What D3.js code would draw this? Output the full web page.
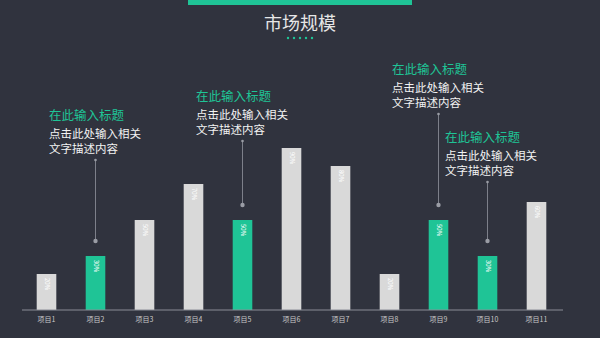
<!DOCTYPE html>
<html>
<head>
<meta charset="utf-8">
<script src="https://cdn.jsdelivr.net/npm/d3@7"></script>
<style>
  html, body { margin: 0; padding: 0; background: #30333e; }
  svg { display: block; font-family: "Noto Sans CJK SC", "Noto Sans", sans-serif; }
</style>
</head>
<body>
<div id="chart"></div>
<script>
var categories = ['项目1', '项目2', '项目3', '项目4', '项目5', '项目6', '项目7', '项目8', '项目9', '项目10', '项目11']
var values = [20, 30, 50, 70, 50, 90, 80, 20, 50, 30, 60]
var highlighted = ['项目2', '项目5', '项目9', '项目10']

// callouts
var noteBars = ['项目2', '项目5', '项目9', '项目10']
var noteTitles = ['在此输入标题', '在此输入标题', '在此输入标题', '在此输入标题']
var noteLine1 = ['点击此处输入相关', '点击此处输入相关', '点击此处输入相关', '点击此处输入相关']
var noteLine2 = ['文字描述内容', '文字描述内容', '文字描述内容', '文字描述内容']

var W = 600, H = 338
var green = '#1fc496'
var grey = '#d9d9d9'

document.addEventListener('DOMContentLoaded', function() {
  var svg = d3.select('#chart').append('svg')
    .attr('width', W)
    .attr('height', H)

  svg.append('rect').attr('width', W).attr('height', H).attr('fill', '#30333e')

  // header
  svg.append('rect')
    .attr('x', 188).attr('y', 0)
    .attr('width', 224).attr('height', 5)
    .attr('fill', green)
  svg.append('text')
    .attr('x', 300).attr('y', 30)
    .attr('text-anchor', 'middle')
    .attr('fill', '#e6e6e6')
    .attr('font-size', 18)
    .text('市场规模')
  for (var i = 0; i < 5; i++) {
    svg.append('circle')
      .attr('cx', 288 + i * 6).attr('cy', 38).attr('r', 1.2)
      .attr('fill', green)
  }

  var x = d3.scaleBand()
    .domain(categories)
    .range([22, 561])
    .paddingInner(0.6)
    .paddingOuter(0.3)
  var y = d3.scaleLinear().domain([0, 100]).range([310, 130])

  // bars
  svg.selectAll('.bar')
    .data(categories)
    .enter().append('rect')
    .attr('class', 'bar')
    .attr('x', function(d) { return x(d) })
    .attr('width', x.bandwidth())
    .attr('y', function(d, i) { return y(values[i]) })
    .attr('height', function(d, i) { return y(0) - y(values[i]) })
    .attr('fill', function(d) { return highlighted.indexOf(d) >= 0 ? green : grey })

  // rotated value labels
  svg.selectAll('.val')
    .data(categories)
    .enter().append('text')
    .attr('class', 'val')
    .attr('transform', function(d, i) {
      return 'translate(' + (x(d) + x.bandwidth() / 2 - 2) + ',' + (y(values[i]) + 4) + ') rotate(90)'
    })
    .attr('fill', '#ffffff')
    .attr('font-size', 6)
    .text(function(d, i) { return values[i] + '%' })

  // axis
  var axis = svg.append('g')
    .attr('transform', 'translate(0,310)')
    .call(d3.axisBottom(x).tickSize(0).tickPadding(7))
  axis.select('.domain').attr('stroke', '#8a8d96').attr('d', 'M22,0H563')
  axis.selectAll('text')
    .attr('fill', '#c8c8c8')
    .attr('font-size', 7)
    .attr('font-family', '"Noto Sans CJK SC", sans-serif')

  // callouts
  var noteX = [49, 196, 392, 445]
  var noteY = [115, 96, 69, 137]
  noteBars.forEach(function(b, i) {
    var tx = noteX[i], ty = noteY[i]
    var cx = x(b) + x.bandwidth() / 2
    var barTop = y(values[categories.indexOf(b)])
    svg.append('text')
      .attr('x', tx).attr('y', ty + 5)
      .attr('fill', green)
      .attr('font-size', 12.5)
      .text(noteTitles[i])
    svg.append('text')
      .attr('x', tx).attr('y', ty + 23)
      .attr('fill', '#f2f2f2')
      .attr('font-size', 11.5)
      .text(noteLine1[i])
    svg.append('text')
      .attr('x', tx).attr('y', ty + 38)
      .attr('fill', '#f2f2f2')
      .attr('font-size', 11.5)
      .text(noteLine2[i])
    var top = ty + 45, bot = barTop - 15
    svg.append('line')
      .attr('x1', cx).attr('x2', cx)
      .attr('y1', top).attr('y2', bot)
      .attr('stroke', '#7d808a').attr('stroke-width', 1)
    svg.append('circle').attr('cx', cx).attr('cy', top).attr('r', 1.3).attr('fill', '#9a9da5')
    svg.append('circle').attr('cx', cx).attr('cy', bot).attr('r', 2.2).attr('fill', '#9a9da5')
  })
})
</script>
</body>
</html>
